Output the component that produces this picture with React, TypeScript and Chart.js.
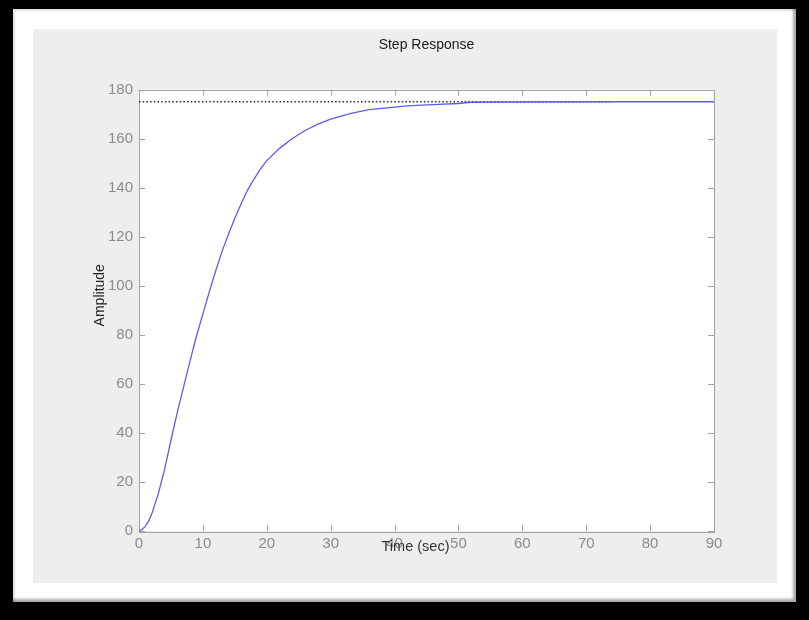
import React, { useEffect, useRef } from 'react';
import { Chart, registerables } from 'chart.js';

Chart.register(...registerables);

// ---- data ----
const timeSec = [0, 0.5, 1, 1.5, 2, 3, 4, 5, 6, 7, 8, 9, 10, 11, 12, 13, 14, 15, 16, 17, 18, 19, 20, 22, 24, 26, 28, 30, 33, 36, 40, 42, 46, 50, 52, 60, 74, 82, 90];
const amplitude = [0, 0.6, 2, 4, 7, 15, 25, 37, 48.5, 59, 69.5, 79.5, 88.5, 97.5, 106, 114, 121, 127.5, 133.5, 139, 143.5, 147.5, 151, 156, 160, 163.3, 165.9, 167.9, 170.2, 171.8, 172.8, 173.3, 173.8, 174.3, 174.8, 174.9, 175, 175, 175];
const finalLineTimes = [0, 74];
const finalLineValues = [175, 175];
const xTicks = [0, 10, 20, 30, 40, 50, 60, 70, 80, 90];
const yTicks = [0, 20, 40, 60, 80, 100, 120, 140, 160, 180];
const titleText = 'Step Response';
const xLabel = 'Time (sec)';
const yLabel = 'Amplitude';

const FONT = '"Liberation Sans", Arial, sans-serif';

const framePlugin = {
  id: 'matlabFrame',
  beforeDraw(chart: any) {
    const { ctx, chartArea: a } = chart;
    ctx.save();
    ctx.fillStyle = '#ffffff';
    ctx.fillRect(a.left, a.top, a.right - a.left, a.bottom - a.top);
    ctx.restore();
  },
  beforeDatasetsDraw(chart: any) {
    const { ctx, chartArea: a, scales } = chart;
    const xs = scales.x;
    const ys = scales.y;
    ctx.save();
    ctx.strokeStyle = '#a3a3a3';
    ctx.lineWidth = 1;
    ctx.strokeRect(Math.round(a.left) + 0.5, Math.round(a.top) + 0.5, Math.round(a.right - a.left), Math.round(a.bottom - a.top));
    const tl = 6;
    ctx.beginPath();
    xTicks.forEach((v) => {
      const px = Math.round(xs.getPixelForValue(v)) + 0.5;
      ctx.moveTo(px, a.bottom);
      ctx.lineTo(px, a.bottom - tl);
      ctx.moveTo(px, a.top);
      ctx.lineTo(px, a.top + tl);
    });
    yTicks.forEach((v) => {
      const py = Math.round(ys.getPixelForValue(v)) + 0.5;
      ctx.moveTo(a.left, py);
      ctx.lineTo(a.left + tl, py);
      ctx.moveTo(a.right, py);
      ctx.lineTo(a.right - tl, py);
    });
    ctx.stroke();
    ctx.restore();
  },
  afterDraw(chart: any) {
    const { ctx, chartArea: a } = chart;
    ctx.save();
    ctx.fillStyle = '#1a1a1a';
    ctx.font = `14px ${FONT}`;
    ctx.textAlign = 'center';
    ctx.textBaseline = 'middle';
    ctx.fillText(titleText, (a.left + a.right) / 2, a.top - 44);
    ctx.fillStyle = '#333333';
    ctx.font = `14.5px ${FONT}`;
    ctx.fillText(xLabel, (a.left + a.right) / 2 - 11, a.bottom + 16);
    ctx.translate(a.left - 39, (a.top + a.bottom) / 2 - 15);
    ctx.rotate(-Math.PI / 2);
    ctx.fillStyle = '#222222';
    ctx.font = `14px ${FONT}`;
    ctx.fillText(yLabel, 0, 0);
    ctx.restore();
  },
};

export default function App() {
  const canvasRef = useRef<HTMLCanvasElement | null>(null);

  useEffect(() => {
    if (!canvasRef.current) return;
    const chart = new Chart(canvasRef.current, {
      type: 'line',
      data: {
        datasets: [
          {
            label: 'Final value',
            data: finalLineTimes.map((t, i) => ({ x: t, y: finalLineValues[i] })),
            borderColor: '#2a2a2a',
            borderWidth: 1.4,
            borderDash: [1.5, 2.2],
            pointRadius: 0,
            tension: 0,
            order: 2,
          },
          {
            label: 'Step',
            data: timeSec.map((t, i) => ({ x: t, y: amplitude[i] })),
            borderColor: '#5c5cf0',
            borderWidth: 1.3,
            pointRadius: 0,
            tension: 0,
            order: 1,
          },
        ],
      },
      options: {
        animation: false,
        responsive: false,
        maintainAspectRatio: false,
        layout: { padding: { left: 0, top: 60.5, right: 63, bottom: 0 } },
        plugins: {
          legend: { display: false },
          title: { display: false },
          tooltip: { enabled: false },
        },
        scales: {
          x: {
            type: 'linear',
            min: 0,
            max: 90,
            grid: { display: false, drawTicks: false },
            border: { display: false },
            ticks: {
              stepSize: 10,
              color: '#8c8c8c',
              padding: 4,
              maxRotation: 0,
              font: { family: FONT, size: 15 },
            },
            afterFit: (s: any) => {
              s.height = 52;
            },
          },
          y: {
            type: 'linear',
            min: 0,
            max: 180,
            grid: { display: false, drawTicks: false },
            border: { display: false },
            ticks: {
              stepSize: 20,
              color: '#8c8c8c',
              padding: 6,
              font: { family: FONT, size: 15 },
            },
            afterFit: (s: any) => {
              s.width = 106;
            },
          },
        },
      },
      plugins: [framePlugin],
    });
    return () => chart.destroy();
  }, []);

  return (
    <div style={{ position: 'fixed', left: 0, top: 0, width: 809, height: 620, background: '#000' }}>
      <div
        style={{
          position: 'absolute',
          left: 13,
          top: 9,
          width: 783,
          height: 593,
          background: '#ffffff',
          boxShadow: 'inset -3px -3px 3px rgba(0,0,0,0.35), inset 2px 2px 2px rgba(0,0,0,0.12)',
        }}
      />
      <div style={{ position: 'absolute', left: 33, top: 29, width: 744, height: 554, background: '#eeeeee' }}>
        <canvas ref={canvasRef} width={744} height={554} style={{ display: 'block', width: 744, height: 554 }} />
      </div>
    </div>
  );
}
